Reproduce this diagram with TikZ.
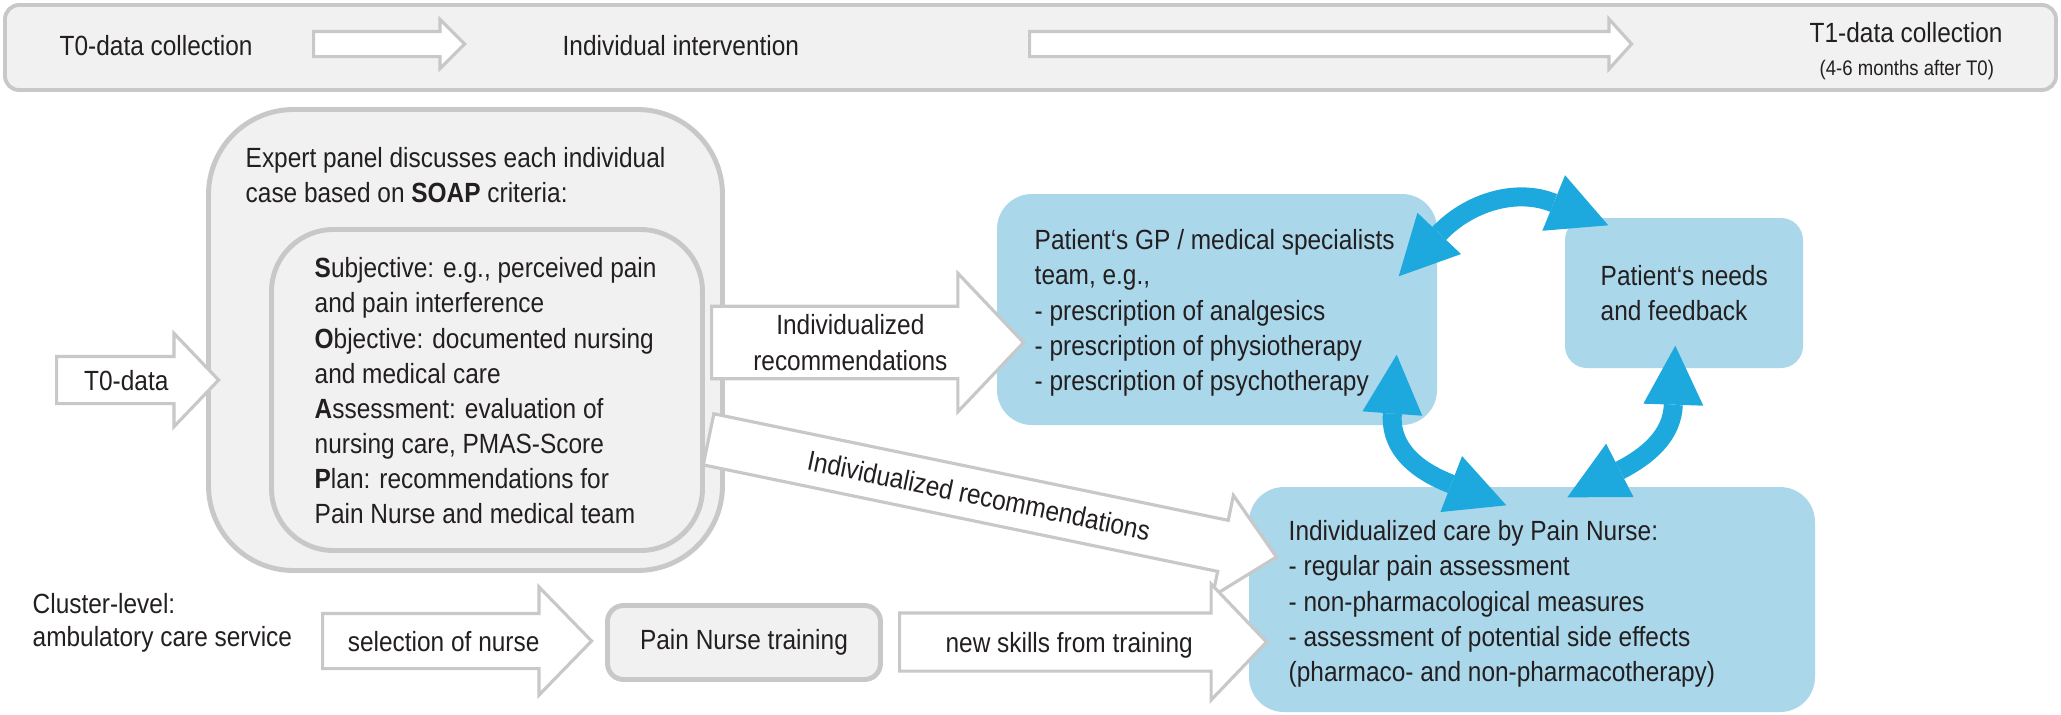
\documentclass[tikz,border=0pt]{standalone}
\usepackage{fontspec}
\setmainfont{Liberation Sans}[FakeStretch=0.88]
\usetikzlibrary{arrows.meta,shapes.arrows}
\definecolor{linegray}{RGB}{200,200,200}
\definecolor{panelgray}{RGB}{241,241,241}
\definecolor{careblue}{RGB}{170,215,234}
\definecolor{cycleblue}{RGB}{29,169,221}
\definecolor{inkgray}{RGB}{35,31,32}

\begin{document}
\begin{tikzpicture}[x=0.1mm,y=-0.1mm,
    every node/.style={font=\fontsize{7.9}{10}\selectfont,text=inkgray,inner sep=0pt},
    graybox/.style={draw=linegray,fill=panelgray,line width=1.4pt},
    carebox/.style={fill=careblue,rounded corners=3.5mm},
    blockarrow/.style={single arrow,draw=linegray,fill=white,line width=0.9pt,
      anchor=tail,inner xsep=0pt},
    oneline/.style={text height=2mm,text depth=0mm},
    cyclearrow/.style={cycleblue,line width=1.9mm,
      {Triangle[length=5.9mm,width=6mm,line width=0pt]}-{Triangle[length=5.9mm,width=6mm,line width=0pt]}}]
  \useasboundingbox (0,0) rectangle (2061,714);

  \node[graybox,line width=1.1pt,rounded corners=1.4mm,minimum width=205.1mm,
        minimum height=8.5mm] (bar) at (1030.5,47.5) {};
  \node[anchor=base west] (t0col) at (59,55) {T0-data collection};
  \node[anchor=base west] (indint) at (562,55) {Individual intervention};
  \node[anchor=base west] (t1col) at (1809,42) {T1-data collection};
  \node[anchor=base west,font=\fontsize{6}{7}\selectfont] (t1time) at (1819,75)
       {(4-6 months after T0)};
  \node[blockarrow,text height=0mm,text depth=0mm,inner ysep=1.1mm,minimum height=15.1mm,
        single arrow head extend=1.2mm,single arrow tip angle=90] (bararrow1) at (312,44) {};
  \node[blockarrow,text height=0mm,text depth=0mm,inner ysep=1.1mm,minimum height=60.2mm,
        single arrow head extend=1.25mm,single arrow tip angle=96] (bararrow2) at (1028,44) {};

  \node[graybox,rounded corners=8.5mm,minimum width=51.4mm,minimum height=46.1mm]
       (panel) at (465.5,340) {};
  \node[graybox,rounded corners=6.2mm,minimum width=43.1mm,minimum height=32.1mm]
       (soap) at (487,390) {};
  \node[anchor=north west,align=left] (paneltext) at (245,147)
       {Expert panel discusses each individual\\case based on \textbf{SOAP} criteria:};
  \node[anchor=north west,align=left] (soaptext) at (314,257)
       {\textbf{S}ubjective: e.g., perceived pain\\and pain interference\\
        \textbf{O}bjective: documented nursing\\and medical care\\
        \textbf{A}ssessment: evaluation of\\nursing care, PMAS-Score\\
        \textbf{P}lan: recommendations for\\Pain Nurse and medical team};

  \node[carebox,minimum width=44mm,minimum height=23.1mm] (gp) at (1217,309.5) {};
  \node[carebox,rounded corners=2.2mm,minimum width=23.8mm,minimum height=15mm]
       (needs) at (1684,293) {};
  \node[carebox,minimum width=56.6mm,minimum height=22.5mm] (nurse) at (1532,599.5) {};
  \node[anchor=north west,align=left] (gptext) at (1034,229)
       {Patient‘s GP / medical specialists\\team, e.g.,\\- prescription of analgesics\\
        - prescription of physiotherapy\\- prescription of psychotherapy};
  \node[anchor=north west,align=left] (needstext) at (1600,265)
       {Patient‘s needs\\and feedback};
  \node[anchor=north west,align=left] (nursetext) at (1288,520)
       {Individualized care by Pain Nurse:\\- regular pain assessment\\
        - non-pharmacological measures\\- assessment of potential side effects\\
        (pharmaco- and non-pharmacotherapy)};

  \node[anchor=north west,align=left,font=\fontsize{7.9}{9.4}\selectfont] (cluster)
       at (32,593) {Cluster-level:\\ambulatory care service};
  \node[graybox,rounded corners=1.6mm,minimum width=27.3mm,minimum height=7.4mm]
       (training) at (744,642.5) {Pain Nurse training};

  \node[blockarrow,oneline,inner ysep=1.2mm,minimum height=16.2mm,
        single arrow head extend=2.3mm,single arrow tip angle=92.6] (t0arrow) at (55,380) {T0-data};
  \node[blockarrow,align=center,inner ysep=0.69mm,minimum height=31.2mm,
        single arrow head extend=3.3mm,single arrow tip angle=93] (recarrow) at (710,342.5)
       {Individualized\\recommendations};
  \node[blockarrow,oneline,rotate=-11.7,inner ysep=1.45mm,minimum height=58mm,
        single arrow head extend=2.55mm,single arrow tip angle=86.7] (diagarrow) at (707,439)
       {Individualized recommendations};
  \node[blockarrow,oneline,inner ysep=1.6mm,minimum height=26.9mm,
        single arrow head extend=2.65mm,single arrow tip angle=91.6] (selarrow) at (321,641)
       {selection of nurse};
  \node[blockarrow,oneline,inner ysep=1.75mm,minimum height=36.7mm,
        single arrow head extend=2.9mm,single arrow tip angle=92.6] (skillarrow) at (898,642)
       {new skills from training};

  \draw[cyclearrow] ([shift={(-39,83)}]gp.north east)
       .. controls +(69,-73) and +(-93,-38) .. ([shift={(44,8)}]needs.north west);
  \draw[cyclearrow] ([shift={(-41,-71)}]gp.south east)
       .. controls +(-7,95) and +(-88,-34) .. ([shift={(258,19)}]nurse.north west);
  \draw[cyclearrow] ([shift={(111,-23)}]needs.south west)
       .. controls +(-3,90) and +(80,-41) .. ([shift={(319,11)}]nurse.north west);
\end{tikzpicture}
\end{document}
